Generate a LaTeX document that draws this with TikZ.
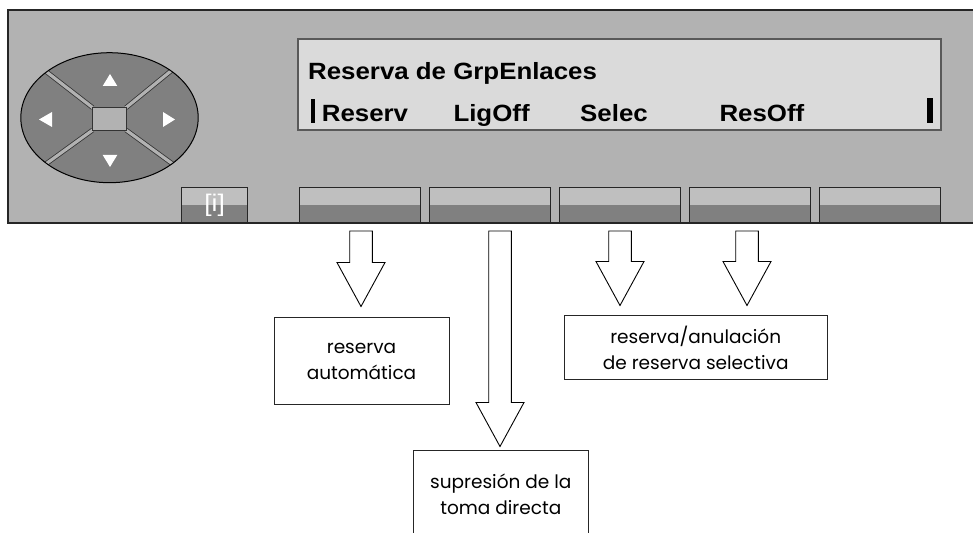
\documentclass[tikz,border=0pt]{standalone}
\usepackage{fontspec}
\newfontfamily\lcdfont{Liberation Sans}[FakeStretch=1.1]
\newfontfamily\notefont{Poppins}
\usetikzlibrary{calc}
\definecolor{panelgray}{gray}{0.70}
\definecolor{lcdgray}{gray}{0.855}
\definecolor{keydark}{gray}{0.50}
\definecolor{keylight}{gray}{0.75}
\tikzset{
  softkey/.style={draw=black!85, line width=1bp, fill=keydark, minimum width=121bp,
    minimum height=35bp, inner sep=0,
    path picture={\fill[keylight] (path picture bounding box.north west)
      rectangle ([yshift=-17bp]path picture bounding box.north east);}},
  lcdtext/.style={anchor=base west, inner sep=0, font=\lcdfont\bfseries\fontsize{23.5bp}{26bp}\selectfont},
  note/.style={draw=black!85, line width=1bp, align=center, inner sep=0,
    font=\notefont\fontsize{18.5bp}{26bp}\selectfont},
  hollow/.style={draw=black, line width=0.9bp, fill=white},
  gap/.style={draw=black!80, line width=0.8bp, double=panelgray, double distance=3.2bp}
}
\newcommand{\hollowarrow}[2]{%
  \draw[hollow] let \p1=(#1), \p2=(#2) in
    (\x1-11.3bp,\y1) -- (\x1+11.3bp,\y1) -- (\x1+11.3bp,\y2+44bp) -- (\x1+24bp,\y2+44bp)
    -- (\x1,\y2) -- (\x1-24bp,\y2+44bp) -- (\x1-11.3bp,\y2+44bp) -- cycle;}
\begin{document}
\begin{tikzpicture}[x=1bp, y=-1bp]
    \useasboundingbox (0,0) rectangle (973,533);
    \fill[panelgray] (8,10) rectangle (990,223);
    \draw[line width=1.2bp, black!85] (990,10) -- (8,10) -- (8,223) -- (990,223);

    \fill[keydark] (109.5,117.7) ellipse [x radius=88.7, y radius=65];
    \begin{scope}
        \clip (109.5,117.7) ellipse [x radius=88.7, y radius=65];
        \draw[gap] (92.7,107.7) -- (0.7,36.3);
        \draw[gap] (126,107.7) -- (214,35.7);
        \draw[gap] (92.7,130) -- (0.7,196.6);
        \draw[gap] (126,130) -- (217.4,196.6);
    \end{scope}
    \draw[fill=panelgray, draw=black!80, line width=0.8bp] (92.7,107.7) rectangle (126,130);
    \draw[line width=1bp] (109.5,117.7) ellipse [x radius=88.7, y radius=65];
    \fill[white] (110,74) -- (102.7,86) -- (117.3,86) -- cycle;
    \fill[white] (110,167) -- (102.7,155) -- (117.3,155) -- cycle;
    \fill[white] (39,119.5) -- (52,112) -- (52,127) -- cycle;
    \fill[white] (175,119.5) -- (163,112) -- (163,127) -- cycle;

    \node[draw=black!65, fill=lcdgray, line width=1.2bp, minimum width=643bp,
        minimum height=91bp, inner sep=0] (lcd) at (619.5,84.5) {};
    \node[lcdtext] (title) at (308,79.3) {Reserva de GrpEnlaces};
    \fill (310.7,99.3) rectangle (315,122.7);
    \node[lcdtext] (reserv) at (321.7,121.7) {Reserv};
    \node[lcdtext] (ligoff) at (453.3,121.7) {LigOff};
    \node[lcdtext] (selec) at (580,121.7) {Selec};
    \node[lcdtext] (resoff) at (719.3,121.7) {ResOff};
    \fill (926.7,98.3) rectangle (932.7,122.7);

    \node[softkey, minimum width=66.4bp, text=white,
        font=\lcdfont\fontsize{24bp}{24bp}\selectfont] (info) at (214.6,205.5) {[i]};
    \foreach \i in {0,...,4}
        \node[softkey] (key\i) at (359.5+130.2*\i,205.5) {};

    \node[note, minimum width=175bp, minimum height=86bp] (rauto) at (361.5,361) {reserva\\automática};
    \node[note, minimum width=263bp, minimum height=63bp] (rsel) at (695.7,347.5) {reserva/anulación\\de reserva selectiva};
    \node[note, minimum width=175bp, minimum height=89bp] (rdir) at (500.8,494.5) {supresión de la\\toma directa};

    \coordinate (s1) at (361,231);
    \coordinate (s2) at (500,231);
    \coordinate (s3) at (620,231);
    \coordinate (s4) at (747,231);
    \hollowarrow{s1}{[yshift=11bp]s1 |- rauto.north}
    \hollowarrow{s2}{[yshift=3bp]s2 |- rdir.north}
    \hollowarrow{s3}{[yshift=10bp]s3 |- rsel.north}
    \hollowarrow{s4}{[yshift=10bp]s4 |- rsel.north}
\end{tikzpicture}
\end{document}
